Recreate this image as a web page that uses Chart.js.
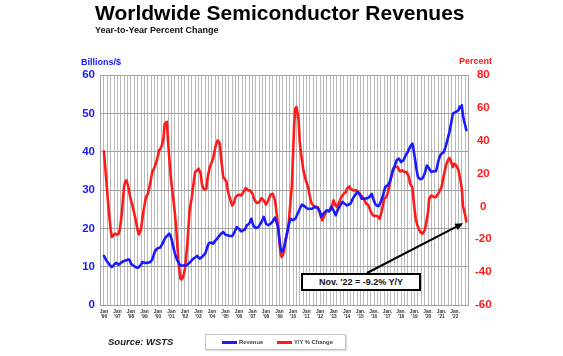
<!DOCTYPE html>
<html>
<head>
<meta charset="utf-8">
<script src="https://cdn.jsdelivr.net/npm/chart.js@4"></script>
<style>
  html, body { margin:0; padding:0; background:#fff; }
  #wrap { position:relative; width:563px; height:356px; overflow:hidden; font-family:"Liberation Sans", Arial, sans-serif; }
  #c { position:absolute; left:0; top:0; }
  .t { position:absolute; white-space:nowrap; font-weight:bold; line-height:1; }
  #title { left:95px; top:2px; font-size:21px; color:#000; }
  #sub { left:95px; top:26px; font-size:9px; color:#111; }
  #ylab { left:81px; top:58px; font-size:9px; color:#1a1aff; }
  #rlab { left:459px; top:57px; font-size:9px; color:#ff1a1a; }
  #src { left:108px; top:337px; font-size:9.5px; font-style:italic; color:#222; }
  #legend { position:absolute; left:205px; top:334px; width:139px; height:14px; border:1px solid #c4c4c4; box-shadow:1px 1px 1px #ddd; background:#fff; }
  .sw { position:absolute; top:6px; width:15px; height:2.5px; }
  .lt { position:absolute; top:4.5px; font-size:5.8px; font-weight:bold; color:#444; line-height:1; white-space:nowrap; }
  #note { position:absolute; left:301px; top:273px; width:116px; height:14px; border:2px solid #000; background:#fff; font-size:9px; font-weight:bold; text-align:center; line-height:14px; color:#111; }
</style>
</head>
<body>
<div id="wrap">
  <canvas id="c" width="563" height="356"></canvas>
  <div class="t" id="title">Worldwide Semiconductor Revenues</div>
  <div class="t" id="sub">Year-to-Year Percent Change</div>
  <div class="t" id="ylab">Billions/$</div>
  <div class="t" id="rlab">Percent</div>
  <div class="t" id="src">Source: WSTS</div>
  <div id="legend">
    <div class="sw" style="left:16px;background:#1a1aff"></div><div class="lt" style="left:33px">Revenue</div>
    <div class="sw" style="left:71px;background:#ff1a1a"></div><div class="lt" style="left:88px">Y/Y % Change</div>
  </div>
  <div id="note">Nov. '22 = -9.2% Y/Y</div>
</div>
<script>
// Monthly data, Jan 1996 .. Nov 2022 (3-month moving average revenue, billions $)
const revenue = [
  12.8, 12.3, 11.7, 11.3, 10.9, 10.5, 10.2, 9.9, 10.1, 10.5, 10.8, 11.0,
  10.8, 10.5, 10.7, 11.0, 11.2, 11.4, 11.5, 11.6, 11.7, 11.8, 11.9, 11.6,
  10.8, 10.5, 10.3, 10.1, 9.9, 9.8, 9.7, 9.9, 10.2, 10.5, 11.2, 11.1,
  11.0, 11.0, 11.0, 11.0, 11.1, 11.2, 11.5, 11.9, 12.8, 13.8, 14.3, 14.7,
  14.8, 14.9, 15.0, 15.5, 16.0, 16.6, 17.3, 17.7, 18.0, 18.3, 18.6, 18.2,
  17.3, 16.0, 14.7, 13.5, 12.5, 11.8, 11.2, 10.7, 10.3, 10.3, 10.3, 10.3,
  10.3, 10.3, 10.5, 10.8, 11.0, 11.3, 11.7, 12.0, 12.2, 12.4, 12.6, 12.8,
  12.4, 12.1, 12.3, 12.5, 12.8, 13.1, 13.4, 14.3, 15.2, 16.0, 16.2, 16.3,
  16.2, 16.0, 16.4, 16.8, 17.1, 17.5, 17.9, 18.2, 18.6, 18.8, 19.0, 18.7,
  18.3, 18.2, 18.2, 18.1, 18.0, 18.0, 18.0, 18.5, 19.0, 19.7, 20.3, 20.1,
  19.9, 19.5, 19.2, 19.4, 19.5, 19.7, 20.2, 20.8, 21.0, 21.2, 21.8, 22.5,
  21.5, 20.6, 20.3, 20.1, 20.2, 20.3, 20.7, 21.2, 21.7, 22.3, 23.0, 22.2,
  21.2, 21.0, 20.8, 21.0, 21.2, 21.5, 21.8, 22.3, 22.8, 22.0, 21.0, 19.9,
  17.0, 14.7, 13.9, 14.3, 15.0, 16.3, 17.7, 19.2, 20.8, 21.7, 22.5, 22.3,
  22.1, 22.3, 22.5, 23.1, 23.8, 24.4, 25.1, 25.7, 26.2, 26.0, 25.8, 25.6,
  25.3, 25.1, 25.1, 25.1, 25.1, 25.1, 25.3, 25.6, 25.5, 25.4, 25.3, 24.8,
  24.3, 23.0, 23.5, 23.8, 24.1, 24.4, 24.7, 24.5, 24.4, 25.0, 25.6, 25.1,
  24.7, 24.0, 23.4, 24.3, 24.9, 25.5, 26.0, 26.5, 26.9, 26.6, 26.4, 26.2,
  26.0, 26.1, 26.3, 26.4, 27.0, 27.7, 28.2, 28.6, 29.0, 29.5, 29.3, 29.0,
  28.4, 27.7, 27.7, 27.7, 27.8, 27.8, 27.9, 28.0, 28.2, 28.6, 29.0, 27.9,
  27.1, 26.4, 26.0, 25.9, 25.8, 26.3, 26.9, 27.7, 28.6, 29.7, 30.8, 31.0,
  31.2, 31.6, 32.1, 33.2, 34.3, 35.2, 36.0, 36.9, 37.7, 38.0, 38.2, 37.8,
  37.3, 37.5, 37.7, 38.3, 39.0, 39.5, 39.9, 40.6, 41.2, 41.7, 42.1, 40.8,
  38.8, 36.9, 35.0, 33.4, 33.1, 32.8, 32.9, 33.0, 33.6, 34.3, 35.3, 36.4,
  36.0, 35.6, 35.1, 34.7, 34.8, 34.9, 34.9, 34.9, 36.0, 37.3, 38.4, 39.1,
  39.5, 39.7, 39.9, 40.8, 41.7, 42.8, 44.0, 45.1, 46.6, 48.2, 49.9, 50.1,
  50.3, 50.4, 50.6, 50.8, 51.7, 51.4, 52.1, 49.5, 48.0, 46.9, 45.6
];
// Year-over-year percent change
const yoyChange = [
  33.5, 25.0, 16.9, 8.0, 0.0, -7.5, -14.0, -18.6, -18.0, -17.2, -16.6, -17.0,
  -17.0, -16.6, -14.6, -9.5, -3.4, 5.0, 12.8, 15.0, 15.9, 13.5, 10.8, 7.0,
  3.7, 1.7, -1.5, -4.5, -7.5, -11.0, -14.6, -17.0, -15.5, -13.5, -8.5, -3.4,
  0.5, 4.7, 6.5, 7.7, 10.5, 13.8, 17.5, 20.9, 22.5, 24.0, 26.0, 28.0,
  31.0, 34.1, 35.0, 36.1, 38.5, 42.2, 50.3, 51.0, 51.4, 39.2, 30.0, 20.9,
  14.0, 8.0, 2.7, -4.0, -11.5, -21.0, -31.8, -38.5, -44.0, -44.5, -43.6, -41.0,
  -37.9, -31.0, -23.7, -14.0, -3.4, 1.5, 5.0, 10.8, 16.0, 20.9, 21.5, 22.0,
  23.0, 21.5, 20.0, 13.8, 11.5, 10.4, 10.5, 10.8, 16.9, 20.5, 24.0, 25.5,
  27.4, 29.0, 32.5, 36.1, 38.5, 40.2, 39.5, 38.2, 30.1, 24.0, 17.9, 17.0,
  15.9, 14.8, 9.8, 7.0, 4.7, 2.5, 0.6, 1.7, 3.5, 5.7, 6.5, 6.9,
  7.1, 6.9, 6.7, 7.8, 8.8, 10.0, 11.2, 10.5, 9.8, 9.8, 9.8, 8.7,
  7.7, 5.5, 3.7, 2.8, 2.1, 2.4, 2.7, 3.9, 5.1, 4.4, 3.7, 2.4,
  1.1, 2.4, 3.7, 5.4, 7.1, 7.4, 7.7, 5.7, 3.7, -1.5, -7.5, -14.5,
  -21.7, -29.0, -30.8, -29.5, -27.5, -22.0, -18.0, -15.5, -12.0, -3.4, 5.0, 12.8,
  31.1, 49.3, 59.5, 60.5, 57.0, 52.4, 39.2, 33.0, 28.0, 23.0, 19.5, 16.9,
  14.5, 12.8, 9.8, 6.0, 2.7, 1.5, 0.6, 0.2, -0.4, -0.4, -0.4, -2.5,
  -4.4, -6.5, -8.5, -7.0, -5.4, -3.5, -2.4, -2.7, -3.0, -2.4, -1.8, 1.0,
  3.7, 1.7, 0.5, -0.4, 1.2, 2.7, 4.2, 5.7, 6.7, 7.7, 8.3, 8.8,
  10.8, 11.5, 12.2, 10.8, 10.3, 10.0, 9.8, 9.8, 9.8, 9.3, 8.8, 8.0,
  7.1, 6.3, 5.5, 4.7, 3.2, 1.7, 1.2, 0.6, -1.2, -3.0, -4.2, -5.4,
  -5.6, -5.8, -5.8, -6.0, -6.4, -7.5, -5.0, -2.4, 1.0, 4.7, 5.2, 5.7,
  8.0, 10.8, 14.0, 16.9, 20.0, 23.0, 23.5, 24.0, 24.0, 24.0, 22.5, 21.3,
  21.6, 22.0, 21.5, 20.9, 20.9, 20.9, 19.5, 17.9, 13.8, 12.8, 11.8, 4.7,
  -1.5, -7.5, -10.0, -12.5, -14.0, -15.6, -16.1, -16.6, -15.6, -14.6, -11.5, -7.5,
  -3.4, 4.7, 5.7, 6.7, 6.2, 5.7, 5.7, 5.7, 6.7, 7.7, 9.0, 10.5,
  11.8, 15.5, 18.9, 22.0, 25.0, 27.0, 28.6, 29.5, 28.0, 26.0, 24.0, 26.0,
  25.5, 25.0, 23.5, 22.0, 18.9, 15.0, 10.8, 0.6, -2.5, -5.4, -9.2
];
const monthLabels = ["Jan","Jan","Jan","Jan","Jan","Jan","Jan","Jan","Jan","Jan","Jan","Jan","Jan","Jan","Jan","Jan","Jan","Jan","Jan",
                     "Jan.","Jan.","Jan.","Jan.","Jan.","Jan.","Jan.","Jan."];
const yearLabels = ["'96","'97","'98","'99","'00","'01","'02","'03","'04","'05","'06","'07","'08","'09",
                    "'10","'11","'12","'13","'14","'15","'16","'17","'18","'19","'20","'21","'22"];
const leftTicks = [0, 10, 20, 30, 40, 50, 60];
const rightTicks = [-60, -40, -20, 0, 20, 40, 60, 80];

const FONT = '"Liberation Sans", Arial, sans-serif';
const BLUE = '#1a1aff', RED = '#ff1a1a';

const revPts = revenue.map((v, i) => ({x: i, y: v}));
const yoyPts = yoyChange.map((v, i) => ({x: i, y: v}));

const arrowPlugin = {
  id: 'arrow',
  afterDatasetsDraw(chart) {
    const {ctx, scales} = chart;
    const last = yoyChange.length - 1;
    const px = scales.x.getPixelForValue(last);
    const py = scales.yR.getPixelForValue(yoyChange[last]);
    const sx = 367, sy = 273;
    const dx = px - sx, dy = py - sy, len = Math.hypot(dx, dy);
    const ux = dx / len, uy = dy / len;
    const ex = px - ux * 3.5, ey = py - uy * 3.5;
    const hl = 8, hw = 3.6;
    ctx.save();
    ctx.strokeStyle = '#000'; ctx.fillStyle = '#000'; ctx.lineWidth = 2;
    ctx.beginPath(); ctx.moveTo(sx, sy); ctx.lineTo(ex - ux * hl * 0.8, ey - uy * hl * 0.8); ctx.stroke();
    ctx.beginPath();
    ctx.moveTo(ex, ey);
    ctx.lineTo(ex - ux * hl - uy * hw, ey - uy * hl + ux * hw);
    ctx.lineTo(ex - ux * hl + uy * hw, ey - uy * hl - ux * hw);
    ctx.closePath(); ctx.fill();
    ctx.restore();
  }
};

new Chart(document.getElementById('c'), {
  type: 'line',
  data: {
    datasets: [
      { label: 'Revenue', data: revPts, yAxisID: 'yL', borderColor: BLUE, borderWidth: 2.6,
        pointRadius: 0, tension: 0, borderJoinStyle: 'round', borderCapStyle: 'round' },
      { label: 'Y/Y % Change', data: yoyPts, yAxisID: 'yR', borderColor: RED, borderWidth: 2.6,
        pointRadius: 0, tension: 0, borderJoinStyle: 'round', borderCapStyle: 'round' }
    ]
  },
  options: {
    responsive: false,
    animation: false,
    events: [],
    layout: { padding: { top: 75, left: 0, right: 0, bottom: 0 } },
    plugins: { legend: { display: false }, tooltip: { enabled: false }, title: { display: false } },
    scales: {
      x: {
        type: 'linear', min: -3.5, max: 323.5,
        afterBuildTicks: s => { const t = []; for (let v = 0; v <= 321; v += 3) t.push({value: v}); s.ticks = t; },
        afterFit: s => { s.height = 51; },
        grid: { color: '#b9b9b9', lineWidth: 1, drawTicks: false },
        border: { color: '#a0a0a0' },
        ticks: {
          autoSkip: false, maxRotation: 0, minRotation: 0, padding: 4, color: '#333',
          font: { family: FONT, size: 4.8, weight: 'bold', lineHeight: 1.05 },
          callback: v => (v % 12 === 0 && v / 12 < yearLabels.length) ? [monthLabels[v / 12], yearLabels[v / 12]] : ''
        }
      },
      yL: {
        position: 'left', min: 0, max: 60,
        afterBuildTicks: s => { s.ticks = leftTicks.map(v => ({value: v})); },
        afterFit: s => { s.width = 100; },
        grid: { color: '#a2a2a2', lineWidth: 1, drawTicks: false },
        border: { color: '#a0a0a0' },
        ticks: { color: BLUE, padding: 5, font: { family: FONT, size: 11.5, weight: 'bold' } }
      },
      yR: {
        position: 'right', min: -60, max: 80,
        afterBuildTicks: s => { s.ticks = rightTicks.map(v => ({value: v})); },
        afterFit: s => { s.width = 95; },
        grid: { drawOnChartArea: false, drawTicks: false },
        border: { color: '#a0a0a0' },
        ticks: { color: RED, padding: 7, crossAlign: 'center', font: { family: FONT, size: 11.5, weight: 'bold' } }
      }
    }
  },
  plugins: [arrowPlugin]
});
</script>
</body>
</html>
